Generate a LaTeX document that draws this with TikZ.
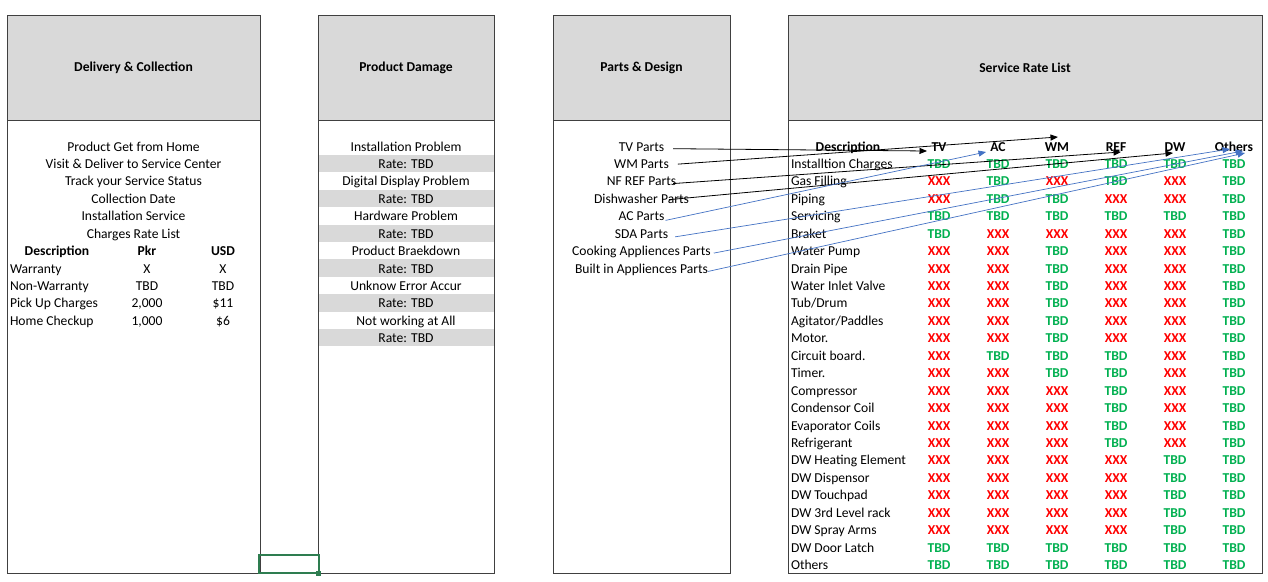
\documentclass[tikz,border=0pt]{standalone}
\usepackage{fontspec}
\setmainfont{Carlito}
\usetikzlibrary{arrows.meta}
\definecolor{hdrgray}{HTML}{D9D9D9}
\definecolor{xred}{HTML}{FF0000}
\definecolor{tgreen}{HTML}{00B050}
\definecolor{lineblue}{HTML}{4472C4}
\definecolor{selgreen}{HTML}{2E7D50}
\definecolor{boxline}{HTML}{404040}
\newcommand\tbd{\textcolor{tgreen}{\bfseries TBD}}
\newcommand\xxx{\textcolor{xred}{\bfseries XXX}}
\newcommand\srvrow[8]{%
  \pgfmathsetmacro\ry{146+17.44*#1+5}%
  \node[txtl] (d#1) at (791,\ry) {#2};%
  \node[txt] (va#1) at (939,\ry) {#3};%
  \node[txt] (vb#1) at (998,\ry) {#4};%
  \node[txt] (vc#1) at (1057,\ry) {#5};%
  \node[txt] (vd#1) at (1116,\ry) {#6};%
  \node[txt] (ve#1) at (1175,\ry) {#7};%
  \node[txt] (vf#1) at (1234,\ry) {#8};%
}
\begin{document}
\begin{tikzpicture}[x=1pt,y=-1pt,
  every node/.style={inner sep=0pt, outer sep=0pt, font=\fontsize{13.6}{16}\selectfont},
  txt/.style={anchor=base},
  txtl/.style={anchor=base west},
  bld/.style={anchor=base, font=\fontsize{13.6}{16}\selectfont\bfseries},
  hdr/.style={draw=boxline, line width=0.9pt, fill=hdrgray, font=\fontsize{13.6}{16}\selectfont\bfseries},
  body/.style={draw=boxline, line width=0.9pt, fill=white},
  band/.style={fill=hdrgray, minimum height=17.2pt},
  blk/.style={black, line width=0.8pt, -{Triangle[length=7.5pt,width=6pt]}},
  blu/.style={lineblue, line width=0.7pt, -{Triangle[length=7.5pt,width=6pt]}},
]
\useasboundingbox (0,0) rectangle (1268,581);
\fill[white] (0,0) rectangle (1268,581);

% ---- boxes ----
\node[body, minimum width=253pt, minimum height=453pt] (b1) at (133.5,346.5) {};
\node[body, minimum width=176pt, minimum height=453pt] (b2) at (406,346.5) {};
\node[body, minimum width=177pt, minimum height=453pt] (b3) at (641.5,346.5) {};
\node[body, minimum width=474pt, minimum height=453pt] (b4) at (1025,346.5) {};

\node[hdr, minimum width=253pt, minimum height=105pt] (h1) at (133.5,67.5) {Delivery \& Collection};
\node[hdr, minimum width=176pt, minimum height=105pt] (h2) at (406,67.5) {Product Damage};
\node[hdr, minimum width=177pt, minimum height=105pt] (h3) at (641.5,67.5) {Parts \& Design};
\node[hdr, minimum width=474pt, minimum height=105pt] (h4) at (1025,67.5) {Service Rate List};

% ---- gray bands in Product Damage ----
\foreach \k in {1,3,5,7,9,11}{
  \pgfmathsetmacro\by{146+17.44*\k}
  \node[band, minimum width=175pt] (band\k) at (406,\by) {};
}

% ---- Delivery & Collection ----
\foreach \t [count=\i from 0] in {Product Get from Home, Visit \& Deliver to Service Center, Track your Service Status, Collection Date, Installation Service, Charges Rate List}{
  \pgfmathsetmacro\ry{146+17.44*\i+5}
  \node[txt] (dc\i) at (133.5,\ry) {\t};
}
\pgfmathsetmacro\ry{146+17.44*6+5}
\node[bld] (dch1) at (57,\ry) {Description};
\node[bld] (dch2) at (147,\ry) {Pkr};
\node[bld] (dch3) at (223,\ry) {USD};
\foreach \a/\b/\c [count=\i from 7] in {Warranty/X/X, Non-Warranty/TBD/TBD, Pick Up Charges/{2,000}/\$11, Home Checkup/{1,000}/\$6}{
  \pgfmathsetmacro\ry{146+17.44*\i+5}
  \node[txtl] (dca\i) at (10,\ry) {\a};
  \node[txt] (dcb\i) at (147,\ry) {\b};
  \node[txt] (dcc\i) at (223,\ry) {\c};
}

% ---- Product Damage ----
\foreach \t [count=\i from 0] in {Installation Problem, Rate: TBD, Digital Display Problem, Rate: TBD, Hardware Problem, Rate: TBD, Product Braekdown, Rate: TBD, Unknow Error Accur, Rate: TBD, Not working at All, Rate: TBD}{
  \pgfmathsetmacro\ry{146+17.44*\i+5}
  \node[txt] (pd\i) at (406,\ry) {\t};
}

% ---- Parts & Design ----
\foreach \n/\t [count=\i from 0] in {pTV/TV Parts, pWM/WM Parts, pNF/NF REF Parts, pDW/Dishwasher Parts, pAC/AC Parts, pSDA/SDA Parts, pCK/Cooking Appliences Parts, pBI/Built in Appliences Parts}{
  \pgfmathsetmacro\ry{146+17.44*\i+5}
  \node[txt] (\n) at (641.5,\ry) {\t};
}

% ---- Service Rate List ----
\pgfmathsetmacro\ry{146+5}
\node[bld] (sd) at (848,\ry) {Description};
\node[bld] (cTV) at (939,\ry) {TV};
\node[bld] (cAC) at (998,\ry) {AC};
\node[bld] (cWM) at (1057,\ry) {WM};
\node[bld] (cREF) at (1116,\ry) {REF};
\node[bld] (cDW) at (1175,\ry) {DW};
\node[bld] (cOT) at (1234,\ry) {Others};

\srvrow{1}{Installtion Charges}{\tbd}{\tbd}{\tbd}{\tbd}{\tbd}{\tbd}
\srvrow{2}{Gas Filling}{\xxx}{\tbd}{\xxx}{\tbd}{\xxx}{\tbd}
\srvrow{3}{Piping}{\xxx}{\tbd}{\tbd}{\xxx}{\xxx}{\tbd}
\srvrow{4}{Servicing}{\tbd}{\tbd}{\tbd}{\tbd}{\tbd}{\tbd}
\srvrow{5}{Braket}{\tbd}{\xxx}{\xxx}{\xxx}{\xxx}{\tbd}
\srvrow{6}{Water Pump}{\xxx}{\xxx}{\tbd}{\xxx}{\xxx}{\tbd}
\srvrow{7}{Drain Pipe}{\xxx}{\xxx}{\tbd}{\xxx}{\xxx}{\tbd}
\srvrow{8}{Water Inlet Valve}{\xxx}{\xxx}{\tbd}{\xxx}{\xxx}{\tbd}
\srvrow{9}{Tub/Drum}{\xxx}{\xxx}{\tbd}{\xxx}{\xxx}{\tbd}
\srvrow{10}{Agitator/Paddles}{\xxx}{\xxx}{\tbd}{\xxx}{\xxx}{\tbd}
\srvrow{11}{Motor.}{\xxx}{\xxx}{\tbd}{\xxx}{\xxx}{\tbd}
\srvrow{12}{Circuit board.}{\xxx}{\tbd}{\tbd}{\tbd}{\xxx}{\tbd}
\srvrow{13}{Timer.}{\xxx}{\xxx}{\tbd}{\tbd}{\xxx}{\tbd}
\srvrow{14}{Compressor}{\xxx}{\xxx}{\xxx}{\tbd}{\xxx}{\tbd}
\srvrow{15}{Condensor Coil}{\xxx}{\xxx}{\xxx}{\tbd}{\xxx}{\tbd}
\srvrow{16}{Evaporator Coils}{\xxx}{\xxx}{\xxx}{\tbd}{\xxx}{\tbd}
\srvrow{17}{Refrigerant}{\xxx}{\xxx}{\xxx}{\tbd}{\xxx}{\tbd}
\srvrow{18}{DW Heating Element}{\xxx}{\xxx}{\xxx}{\xxx}{\tbd}{\tbd}
\srvrow{19}{DW Dispensor}{\xxx}{\xxx}{\xxx}{\xxx}{\tbd}{\tbd}
\srvrow{20}{DW Touchpad}{\xxx}{\xxx}{\xxx}{\xxx}{\tbd}{\tbd}
\srvrow{21}{DW 3rd Level rack}{\xxx}{\xxx}{\xxx}{\xxx}{\tbd}{\tbd}
\srvrow{22}{DW Spray Arms}{\xxx}{\xxx}{\xxx}{\xxx}{\tbd}{\tbd}
\srvrow{23}{DW Door Latch}{\tbd}{\tbd}{\tbd}{\tbd}{\tbd}{\tbd}
\srvrow{24}{Others}{\tbd}{\tbd}{\tbd}{\tbd}{\tbd}{\tbd}

% ---- arrow targets ----
\coordinate (tTV) at (927,151);
\coordinate (tWM) at (1058,137);
\coordinate (tREF) at (1121,152);
\coordinate (tDW) at (1173,153);
\coordinate (tAC) at (986,152);
\coordinate (tOT1) at (1230,149);
\coordinate (tOT2) at (1243,151);
\coordinate (tOT3) at (1245,153);

% ---- connectors ----
\draw[blk] ([xshift=9pt,yshift=-2pt]pTV.east) -- (tTV);
\draw[blk] ([xshift=9pt]pWM.east) -- (tWM);
\draw[blk] ([xshift=-3pt,yshift=-2pt]pNF.east) -- (tREF);
\draw[blk] ([xshift=-20pt,yshift=-1pt]pDW.east) -- (tDW);
\draw[blu] ([xshift=1pt,yshift=-4pt]pAC.east) -- (tAC);
\draw[blu] ([xshift=7pt,yshift=-3pt]pSDA.east) -- (tOT1);
\draw[blu] ([xshift=3pt,yshift=-1pt]pCK.east) -- (tOT2);
\draw[blu] ([xshift=0pt,yshift=-2pt]pBI.east) -- (tOT3);

% ---- selected cell ----
\draw[selgreen, line width=2pt] (258.5,554.5) rectangle (318.5,573);
\fill[selgreen] (316,570.5) rectangle (321,575.5);
\end{tikzpicture}
\end{document}
